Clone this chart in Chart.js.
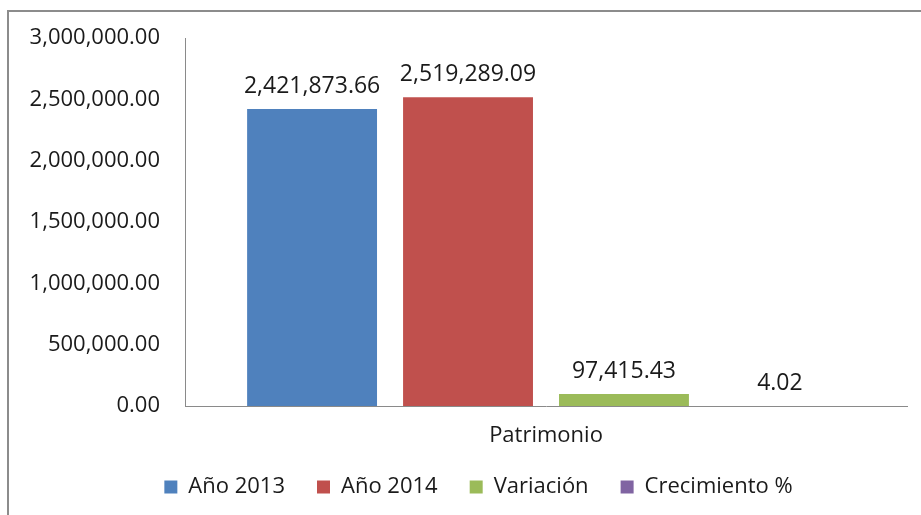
<!DOCTYPE html>
<html>
<head>
<meta charset="utf-8">
<script src="https://cdn.jsdelivr.net/npm/chart.js@4.4.1/dist/chart.umd.min.js"></script>
<style>
  html, body { margin: 0; padding: 0; background: #fff; overflow: hidden; }
  #wrap { position: relative; width: 921px; height: 515px; }
  #frame { position: absolute; left: 7px; top: 10px; right: -10px; bottom: -10px;
           border-left: 2px solid #8c8c8c; border-top: 2px solid #8c8c8c; pointer-events: none; }
</style>
</head>
<body>
<div id="wrap">
  <canvas id="c" width="921" height="515"></canvas>
  <div id="frame"></div>
</div>
<script>
const categories = ["Patrimonio"];
const seriesNames = ["Año 2013", "Año 2014", "Variación", "Crecimiento %"];
const valuesAnio2013 = [2421873.66];
const valuesAnio2014 = [2519289.09];
const valuesVariacion = [97415.43];
const valuesCrecimiento = [4.02];
const seriesColors = ["#4F81BD", "#C0504D", "#9BBB59", "#8064A2"];
const yTicks = [0, 500000, 1000000, 1500000, 2000000, 2500000, 3000000];

const FONT = "'Open Sans', 'Liberation Sans', sans-serif";
const TEXT = "#1a1a1a";
const fmt = v => v.toLocaleString('en-US', {minimumFractionDigits: 2, maximumFractionDigits: 2});

const dataLabels = {
  id: 'dataLabels',
  afterDatasetsDraw(chart) {
    const ctx = chart.ctx;
    ctx.save();
    ctx.font = "23px " + FONT;
    ctx.fillStyle = TEXT;
    ctx.textAlign = 'center';
    ctx.textBaseline = 'alphabetic';
    chart.data.datasets.forEach((ds, i) => {
      const meta = chart.getDatasetMeta(i);
      meta.data.forEach((bar, j) => {
        ctx.fillText(fmt(ds.data[j]), bar.x, bar.y - 16);
      });
    });
    ctx.restore();
  }
};

// shift the legend a little to the right (as in the reference)
const legendShift = {
  id: 'legendShift',
  afterLayout(chart) {
    if (chart.legend) { chart.legend.left += 20; chart.legend.right += 20; }
  }
};

const seriesData = [valuesAnio2013, valuesAnio2014, valuesVariacion, valuesCrecimiento];

new Chart(document.getElementById('c'), {
  type: 'bar',
  data: {
    labels: categories,
    datasets: seriesNames.map((n, i) => ({
      label: n,
      data: seriesData[i],
      backgroundColor: seriesColors[i],
      borderWidth: 0,
      categoryPercentage: 0.864,
      barPercentage: 0.833
    }))
  },
  options: {
    responsive: false,
    animation: false,
    layout: { padding: { left: 10, top: 38, right: 14, bottom: 7 } },
    plugins: {
      tooltip: { enabled: false },
      legend: {
        position: 'bottom',
        labels: {
          boxWidth: 13, boxHeight: 13, padding: 32,
          color: TEXT,
          font: { family: FONT, size: 22 }
        }
      }
    },
    scales: {
      x: {
        grid: { display: false, drawTicks: false },
        border: { display: true, color: '#8a8a8a', width: 1 },
        ticks: { color: TEXT, padding: 17, font: { family: FONT, size: 22 } },
        afterFit(s) { s.height = 38; }
      },
      y: {
        min: 0, max: 3000000,
        grid: { display: false, drawTicks: false },
        border: { display: true, color: '#8a8a8a', width: 1 },
        afterBuildTicks(s) { s.ticks = yTicks.map(v => ({ value: v })); },
        ticks: {
          color: TEXT, padding: 25,
          font: { family: FONT, size: 22 },
          callback: v => fmt(v)
        },
        afterFit(s) { s.width = 175; }
      }
    }
  },
  plugins: [dataLabels, legendShift]
});
</script>
</body>
</html>
